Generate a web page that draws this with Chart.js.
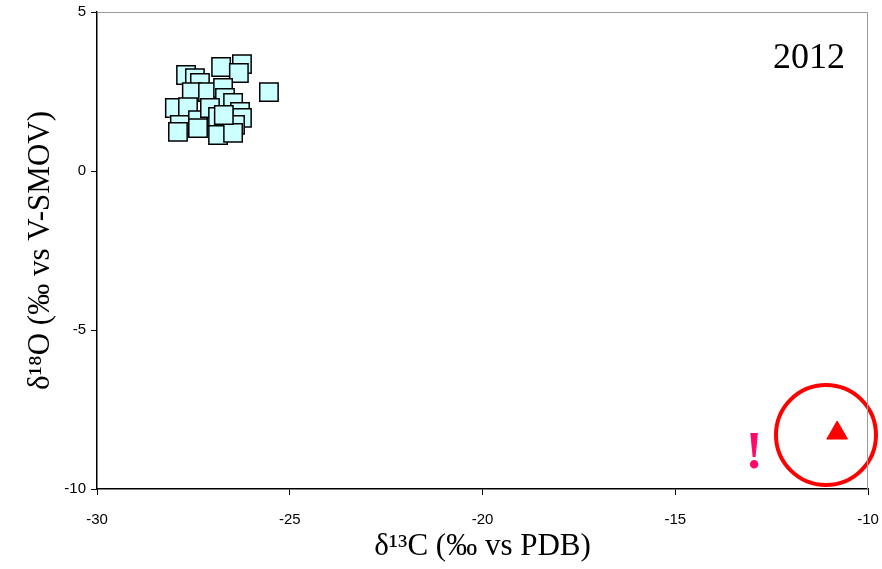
<!DOCTYPE html>
<html>
<head>
<meta charset="utf-8">
<script src="https://cdn.jsdelivr.net/npm/chart.js@4/dist/chart.umd.min.js"></script>
<style>
  html, body { margin: 0; padding: 0; background: #fff; }
  #wrap { width: 882px; height: 569px; }
</style>
</head>
<body>
<div id="wrap"><canvas id="chart"></canvas></div>
<script>
// 2012 samples (d13C, d18O)
const sampleC = [-27.69, -27.46, -27.33, -26.78, -26.24, -26.32, -25.54, -27.54, -27.12, -26.73,
  -26.68, -27.98, -27.64, -27.85, -27.90, -27.38, -27.38, -27.07, -26.86, -26.47,
  -26.29, -26.24, -26.42, -26.86, -26.47, -26.71];
const sampleO = [3.02, 2.92, 2.77, 3.27, 3.36, 3.08, 2.48, 2.48, 2.48, 2.61,
  2.30, 1.98, 2.01, 1.45, 1.23, 1.60, 1.35, 1.98, 1.70, 2.14,
  1.86, 1.67, 1.45, 1.13, 1.20, 1.76];

// outlier
const outlierC = [-10.8];
const outlierO = [-8.24];

const xTicks = [-30, -25, -20, -15, -10];
const yTicks = [5, 0, -5, -10];

const serif = "'Liberation Serif', 'Times New Roman', serif";
const sans = "'Liberation Sans', Arial, sans-serif";

// 外枠 (上と右はグレー) と注記
const frame = {
  id: "frame",
  afterDraw(chart) {
    const { ctx, chartArea: a, scales } = chart;
    ctx.save();
    ctx.strokeStyle = "#9a9a9a";
    ctx.lineWidth = 1;
    ctx.beginPath();
    ctx.moveTo(a.left, a.top + 0.5);
    ctx.lineTo(a.right - 0.5, a.top + 0.5);
    ctx.lineTo(a.right - 0.5, a.bottom);
    ctx.stroke();

    ctx.fillStyle = "#000";
    ctx.font = "36px " + serif;
    ctx.textAlign = "right";
    ctx.textBaseline = "alphabetic";
    ctx.fillText("2012", a.right - 23, 68);

    ctx.fillStyle = "#ff0a6a";
    ctx.font = "bold 52px " + serif;
    ctx.textAlign = "center";
    ctx.fillText("!", scales.x.getPixelForValue(-12.95), scales.y.getPixelForValue(-9.35));
    ctx.restore();
  }
};

new Chart(document.getElementById("chart"), {
  type: "scatter",
  data: {
    datasets: [
      {
        label: "2012",
        data: sampleC.map((c, i) => ({ x: c, y: sampleO[i] })),
        pointStyle: "rect",
        pointRadius: 13,
        backgroundColor: "#ccffff",
        borderColor: "#000",
        borderWidth: 1.5,
      },
      {
        label: "circle",
        data: [{ x: -11.09, y: -8.3 }],
        pointStyle: "circle",
        pointRadius: 50,
        backgroundColor: "rgba(0,0,0,0)",
        borderColor: "#ff0000",
        borderWidth: 4,
        clip: false,
      },
      {
        label: "outlier",
        data: outlierC.map((c, i) => ({ x: c, y: outlierO[i] })),
        pointStyle: "triangle",
        pointRadius: 12,
        backgroundColor: "#ff0000",
        borderColor: "#ff0000",
        borderWidth: 1,
      },
    ],
  },
  options: {
    responsive: true,
    maintainAspectRatio: false,
    animation: false,
    layout: { autoPadding: false, padding: { top: 12, right: 14, left: 0, bottom: 0 } },
    plugins: { legend: { display: false }, tooltip: { enabled: false } },
    scales: {
      x: {
        type: "linear",
        min: -30,
        max: -10,
        afterBuildTicks: (s) => { s.ticks = xTicks.map((v) => ({ value: v })); },
        afterFit: (s) => { s.height = 80; s.paddingLeft = 0; s.paddingRight = 0; },
        grid: { display: true, drawOnChartArea: false, drawTicks: true, tickLength: 6, color: "#000" },
        border: { color: "#000", width: 1.5 },
        ticks: { color: "#000", font: { family: sans, size: 15 }, padding: 16 },
        title: { display: true, text: "δ¹³C (‰ vs PDB)", color: "#000", font: { family: serif, size: 31 }, padding: { top: 0 } },
      },
      y: {
        type: "linear",
        min: -10,
        max: 5,
        afterBuildTicks: (s) => { s.ticks = yTicks.map((v) => ({ value: v })); },
        afterFit: (s) => { s.width = 97; s.paddingTop = 0; s.paddingBottom = 0; },
        grid: { display: true, drawOnChartArea: false, drawTicks: true, tickLength: 6, color: "#000" },
        border: { color: "#000", width: 1.5 },
        ticks: { color: "#000", font: { family: sans, size: 15 }, padding: 5 },
        title: { display: true, text: "δ¹⁸O (‰ vs V-SMOV)", color: "#000", font: { family: serif, size: 31 }, padding: { bottom: 0, top: 22 } },
      },
    },
  },
  plugins: [frame],
});
</script>
</body>
</html>
